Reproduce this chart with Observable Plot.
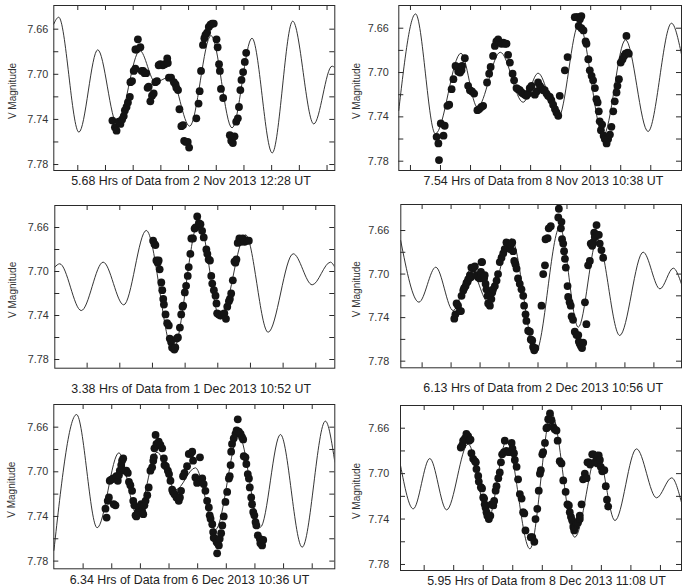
<!DOCTYPE html>
<html><head><meta charset="utf-8">
<script src="https://cdn.jsdelivr.net/npm/d3@7"></script>
<script src="https://cdn.jsdelivr.net/npm/@observablehq/plot@0.6"></script>
<style>
html,body{margin:0;padding:0;background:#fff;}
#root{position:relative;width:682px;height:588px;overflow:hidden;font-family:"Liberation Sans",Arial,sans-serif;}
#root svg{position:absolute;}
</style></head><body><div id="root"></div>
<script>
// ---- text ----
const captions = [
  "5.68 Hrs of Data from 2 Nov 2013 12:28 UT",
  "7.54 Hrs of Data from 8 Nov 2013 10:38 UT",
  "3.38 Hrs of Data from 1 Dec 2013 10:52 UT",
  "6.13 Hrs of Data from 2 Dec 2013 10:56 UT",
  "6.34 Hrs of Data from 6 Dec 2013 10:36 UT",
  "5.95 Hrs of Data from 8 Dec 2013 11:08 UT"
];
const yLabel = "V Magnitude";
const yTickValues = [7.66, 7.68, 7.70, 7.72, 7.74, 7.76, 7.78];
const yLabelValues = [7.66, 7.70, 7.74, 7.78];

// ---- x ticks (in tick units) ----
const nov02XTicks = [1,2,3,4,5,6,7,8,9,10];
const nov08XTicks = [1,2,3,4,5,6,7,8,9];
const dec01XTicks = [1,2,3,4,5,6,7,8];
const dec02XTicks = [1,2,3,4,5,6,7,8,9];
const dec06XTicks = [1,2,3,4,5,6,7,8,9];
const dec08XTicks = [1,2,3,4,5,6,7,8,9];

// ---- domains ----
const nov02XDomain = [0.134, 10.28], nov02YDomain = [7.639, 7.7853];
const nov08XDomain = [0.612, 10.023], nov08YDomain = [7.6395, 7.7884];
const dec01XDomain = [0.010, 8.582], dec01YDomain = [7.640, 7.7879];
const dec02XDomain = [0.264, 9.953], dec02YDomain = [7.6361, 7.7861];
const dec06XDomain = [-0.024, 9.789], dec06YDomain = [7.6397, 7.7869];
const dec08XDomain = [0.199, 9.713], dec08YDomain = [7.640, 7.7853];

// ---- model curves (extrema of fitted curve: [time, V mag]) ----
const nov02Model = [[0.13,7.6555],[0.31,7.6494],[1.04,7.7513],[1.72,7.6783],[2.42,7.744],[3.24,7.679],[3.80,7.707],[4.35,7.702],[5.04,7.746],[5.81,7.6656],[6.57,7.7475],[7.29,7.668],[8.02,7.7697],[8.76,7.6529],[9.52,7.744],[10.18,7.6928],[10.28,7.694]];
const nov08Model = [[0.61,7.7343],[1.17,7.6471],[1.83,7.7553],[2.68,7.6826],[3.23,7.7313],[3.99,7.6817],[4.75,7.7268],[5.25,7.7006],[5.92,7.7409],[6.61,7.6561],[7.42,7.7568],[8.16,7.6705],[8.91,7.7532],[9.69,7.6555],[10.02,7.6832]];
const dec01Model = [[0.01,7.696],[0.16,7.693],[0.82,7.7355],[1.49,7.6915],[2.12,7.7303],[2.81,7.6627],[3.63,7.7718],[4.42,7.6545],[5.08,7.743],[5.85,7.6667],[6.54,7.7552],[7.31,7.6839],[7.89,7.7121],[8.45,7.6915],[8.58,7.696]];
const dec02Model = [[0.26,7.6692],[0.89,7.7258],[1.47,7.6937],[2.07,7.7335],[2.68,7.6958],[3.28,7.7258],[4.08,7.6677],[4.92,7.7717],[5.75,7.6569],[6.39,7.7488],[7.05,7.6677],[7.82,7.7564],[8.63,7.6799],[9.21,7.7136],[9.67,7.6946],[9.95,7.709]];
const dec06Model = [[-0.02,7.7704],[0.77,7.6487],[1.49,7.7501],[2.25,7.683],[2.89,7.7391],[3.58,7.6824],[4.23,7.7161],[4.92,7.6964],[5.62,7.7519],[6.44,7.6675],[7.19,7.7496],[7.89,7.6666],[8.65,7.7675],[9.46,7.6546],[9.79,7.6913]];
const dec08Model = [[0.20,7.6929],[0.63,7.731],[1.19,7.6867],[1.76,7.7319],[2.49,7.6738],[3.17,7.7398],[3.79,7.6709],[4.58,7.7662],[5.31,7.6468],[6.10,7.756],[6.87,7.6811],[7.46,7.7413],[8.19,7.6782],[8.87,7.7213],[9.38,7.7037],[9.71,7.7251]];

// ---- observations [time, V mag] ----
const nov02Obs = [[2.25,7.741],[2.34,7.747],[2.40,7.750],[2.48,7.742],[2.54,7.744],[2.60,7.740],[2.66,7.737],[2.70,7.732],[2.76,7.729],[2.81,7.725],[2.88,7.720],[2.90,7.707],[2.96,7.706],[3.02,7.697],[3.08,7.695],[3.08,7.678],[3.12,7.678],[3.17,7.669],[3.26,7.676],[3.31,7.697],[3.36,7.697],[3.41,7.699],[3.47,7.699],[3.52,7.712],[3.56,7.711],[3.62,7.724],[3.68,7.719],[3.74,7.717],[3.80,7.707],[3.86,7.706],[3.92,7.692],[3.98,7.691],[4.07,7.692],[4.14,7.691],[4.23,7.686],[4.25,7.690],[4.29,7.703],[4.37,7.703],[4.47,7.707],[4.53,7.709],[4.56,7.712],[4.62,7.714],[4.67,7.731],[4.74,7.746],[4.80,7.745],[4.84,7.759],[4.90,7.760],[4.97,7.760],[5.02,7.765],[5.28,7.739],[5.36,7.726],[5.40,7.715],[5.45,7.697],[5.52,7.674],[5.57,7.668],[5.61,7.665],[5.67,7.663],[5.73,7.658],[5.79,7.656],[5.85,7.655],[5.91,7.655],[6.01,7.669],[6.05,7.676],[6.10,7.691],[6.13,7.697],[6.17,7.713],[6.25,7.721],[6.49,7.754],[6.54,7.759],[6.60,7.761],[6.66,7.755],[6.72,7.742],[6.78,7.739],[6.82,7.729],[6.87,7.714],[6.91,7.705],[6.97,7.698],[7.03,7.689],[7.08,7.681]];
const nov08Obs = [[1.87,7.758],[1.93,7.764],[1.95,7.779],[2.01,7.746],[2.14,7.748],[2.10,7.757],[2.23,7.730],[2.29,7.729],[2.37,7.715],[2.43,7.706],[2.50,7.694],[2.55,7.695],[2.59,7.699],[2.65,7.700],[2.70,7.698],[2.81,7.687],[2.72,7.694],[2.92,7.712],[2.98,7.716],[3.05,7.717],[3.12,7.719],[3.23,7.734],[3.29,7.733],[3.36,7.731],[3.42,7.730],[3.55,7.709],[3.62,7.701],[3.67,7.695],[3.75,7.685],[3.81,7.676],[3.86,7.672],[3.92,7.670],[3.97,7.673],[4.03,7.674],[4.09,7.673],[4.14,7.674],[4.20,7.674],[4.25,7.684],[4.31,7.691],[4.40,7.701],[4.45,7.707],[4.53,7.714],[4.58,7.715],[4.64,7.716],[4.70,7.718],[4.75,7.719],[4.81,7.720],[4.86,7.721],[4.92,7.719],[4.97,7.714],[5.03,7.712],[5.14,7.720],[5.20,7.717],[5.25,7.709],[5.31,7.712],[5.36,7.714],[5.42,7.716],[5.47,7.716],[5.53,7.719],[5.58,7.721],[5.64,7.722],[5.69,7.725],[5.75,7.729],[5.81,7.733],[5.86,7.736],[5.92,7.739],[5.97,7.721],[6.14,7.698],[6.23,7.686],[6.47,7.650],[6.53,7.650],[6.58,7.650],[6.64,7.652],[6.69,7.649],[6.60,7.658],[6.69,7.660],[6.76,7.662],[6.83,7.672],[6.86,7.674],[6.92,7.688],[6.97,7.698],[7.03,7.703],[7.08,7.707],[7.14,7.714],[7.19,7.724],[7.23,7.727],[7.27,7.735],[7.30,7.744],[7.34,7.752],[7.38,7.747],[7.43,7.757],[7.47,7.760],[7.53,7.764],[7.58,7.760],[7.64,7.756],[7.69,7.749],[7.75,7.735],[7.80,7.726],[7.86,7.718],[7.89,7.712],[7.94,7.706],[8.00,7.691],[8.06,7.688],[8.11,7.685],[8.16,7.683],[8.23,7.682],[8.27,7.683],[8.19,7.667]];
const dec01Obs = [[3.02,7.672],[3.06,7.675],[3.09,7.676],[3.12,7.690],[3.16,7.692],[3.19,7.690],[3.22,7.698],[3.27,7.710],[3.30,7.717],[3.33,7.725],[3.35,7.730],[3.40,7.739],[3.45,7.747],[3.50,7.749],[3.53,7.761],[3.57,7.764],[3.60,7.769],[3.65,7.770],[3.67,7.771],[3.70,7.769],[3.74,7.761],[3.78,7.760],[3.84,7.751],[3.88,7.739],[3.92,7.732],[3.94,7.731],[3.99,7.719],[4.03,7.713],[4.08,7.704],[4.11,7.696],[4.16,7.684],[4.19,7.670],[4.24,7.670],[4.29,7.661],[4.32,7.660],[4.37,7.650],[4.42,7.656],[4.47,7.657],[4.52,7.663],[4.57,7.669],[4.65,7.680],[4.68,7.684],[4.72,7.689],[4.76,7.690],[4.80,7.704],[4.83,7.711],[4.88,7.717],[4.93,7.722],[4.96,7.729],[4.98,7.738],[5.03,7.739],[5.08,7.740],[5.13,7.739],[5.20,7.738],[5.25,7.743],[5.29,7.732],[5.34,7.727],[5.37,7.725],[5.41,7.720],[5.46,7.708],[5.51,7.691],[5.54,7.692],[5.57,7.689],[5.61,7.674],[5.66,7.670],[5.71,7.673],[5.77,7.670],[5.82,7.673],[5.90,7.672],[5.95,7.672]];
const dec02Obs = [[2.11,7.741],[2.15,7.737],[2.19,7.727],[2.24,7.729],[2.30,7.734],[2.34,7.734],[2.36,7.720],[2.42,7.715],[2.45,7.713],[2.50,7.711],[2.53,7.708],[2.57,7.707],[2.59,7.705],[2.65,7.701],[2.68,7.703],[2.70,7.694],[2.76,7.695],[2.82,7.693],[2.88,7.701],[2.93,7.703],[2.99,7.704],[3.03,7.698],[3.05,7.689],[3.07,7.689],[3.14,7.704],[3.16,7.701],[3.19,7.709],[3.22,7.714],[3.26,7.720],[3.28,7.727],[3.34,7.729],[3.39,7.723],[3.42,7.717],[3.45,7.714],[3.51,7.711],[3.57,7.706],[3.62,7.700],[3.68,7.689],[3.74,7.685],[3.80,7.681],[3.85,7.677],[3.91,7.671],[3.97,7.674],[4.03,7.677],[4.06,7.673],[4.11,7.671],[4.14,7.679],[4.18,7.688],[4.22,7.691],[4.26,7.695],[4.31,7.704],[4.37,7.709],[4.43,7.714],[4.49,7.720],[4.52,7.729],[4.57,7.737],[4.60,7.743],[4.66,7.752],[4.72,7.753],[4.75,7.760],[4.80,7.761],[4.83,7.767],[4.87,7.770],[4.91,7.768],[5.12,7.729],[5.18,7.700],[5.24,7.692],[5.26,7.668],[5.33,7.667],[5.37,7.658],[5.44,7.656],[5.70,7.648],[5.72,7.640],[5.79,7.658],[5.81,7.652],[5.83,7.668],[5.87,7.672],[5.90,7.679],[5.93,7.686],[5.96,7.694],[6.02,7.711],[6.04,7.721],[6.09,7.726],[6.13,7.729],[6.16,7.739],[6.21,7.742],[6.27,7.753],[6.33,7.756],[6.39,7.756],[6.41,7.762],[6.44,7.764],[6.48,7.766],[6.52,7.768],[6.56,7.763],[6.62,7.726],[6.67,7.746],[6.73,7.692],[6.79,7.688],[6.82,7.672],[6.87,7.674],[6.90,7.671],[6.94,7.662],[6.96,7.666],[7.02,7.655],[7.05,7.664],[7.10,7.664],[7.13,7.672],[7.19,7.678],[7.25,7.685]];
const dec06Obs = [[1.78,7.733],[1.82,7.741],[1.86,7.726],[1.90,7.723],[1.93,7.708],[1.98,7.707],[2.05,7.706],[2.07,7.729],[2.13,7.730],[2.16,7.704],[2.21,7.708],[2.25,7.703],[2.28,7.699],[2.33,7.694],[2.36,7.690],[2.40,7.688],[2.44,7.699],[2.51,7.699],[2.56,7.701],[2.60,7.709],[2.65,7.712],[2.71,7.717],[2.75,7.726],[2.79,7.730],[2.83,7.739],[2.86,7.740],[2.91,7.736],[2.98,7.732],[3.03,7.729],[3.06,7.735],[3.10,7.738],[3.14,7.730],[3.18,7.726],[3.24,7.721],[3.29,7.714],[3.35,7.699],[3.41,7.696],[3.45,7.690],[3.47,7.687],[3.49,7.679],[3.53,7.667],[3.56,7.675],[3.61,7.676],[3.64,7.673],[3.70,7.676],[3.76,7.679],[3.82,7.688],[3.84,7.694],[3.89,7.695],[3.96,7.699],[4.00,7.702],[4.05,7.708],[4.11,7.716],[4.14,7.718],[4.19,7.720],[4.26,7.723],[4.34,7.726],[4.38,7.723],[4.42,7.717],[4.49,7.704],[4.54,7.701],[4.63,7.695],[4.69,7.684],[4.75,7.684],[4.81,7.682],[4.84,7.690],[4.92,7.705],[4.98,7.710],[5.08,7.687],[5.16,7.706],[5.21,7.711],[5.27,7.717],[5.33,7.726],[5.39,7.732],[5.42,7.739],[5.45,7.742],[5.51,7.747],[5.54,7.754],[5.56,7.759],[5.62,7.760],[5.66,7.763],[5.70,7.764],[5.74,7.766],[5.68,7.773],[5.77,7.760],[5.82,7.755],[5.86,7.748],[5.91,7.740],[5.97,7.727],[6.03,7.718],[6.09,7.706],[6.12,7.704],[6.15,7.694],[6.17,7.682],[6.20,7.675],[6.26,7.670],[6.32,7.666],[6.36,7.663],[6.40,7.653],[6.44,7.664],[6.50,7.666],[6.55,7.669],[6.59,7.671],[6.61,7.686],[6.67,7.687],[6.70,7.693],[6.75,7.702],[6.79,7.706],[6.82,7.714],[6.87,7.723],[6.90,7.729],[6.94,7.736],[6.98,7.739],[7.02,7.745],[7.05,7.748],[7.10,7.757],[7.17,7.760],[7.19,7.764],[7.25,7.766],[7.29,7.761]];
const dec08Obs = [[2.24,7.677],[2.29,7.675],[2.32,7.671],[2.38,7.669],[2.43,7.665],[2.49,7.667],[2.52,7.671],[2.57,7.670],[2.60,7.682],[2.66,7.687],[2.72,7.689],[2.75,7.690],[2.77,7.696],[2.83,7.702],[2.85,7.707],[2.92,7.712],[2.96,7.713],[3.00,7.721],[3.03,7.722],[3.05,7.727],[3.08,7.730],[3.11,7.734],[3.14,7.737],[3.19,7.740],[3.24,7.737],[3.28,7.727],[3.34,7.728],[3.37,7.724],[3.42,7.715],[3.45,7.711],[3.51,7.704],[3.56,7.699],[3.60,7.690],[3.64,7.683],[3.70,7.681],[3.73,7.671],[3.79,7.680],[3.84,7.681],[3.90,7.681],[3.96,7.673],[3.99,7.678],[4.04,7.682],[4.07,7.688],[4.13,7.694],[4.18,7.705],[4.24,7.718],[4.30,7.722],[4.35,7.734],[4.39,7.735],[4.43,7.750],[4.61,7.756],[4.66,7.756],[4.73,7.760],[4.77,7.740],[4.83,7.731],[4.88,7.715],[4.92,7.700],[4.95,7.697],[5.00,7.683],[5.03,7.681],[5.09,7.673],[5.14,7.660],[5.18,7.659],[5.20,7.652],[5.26,7.647],[5.31,7.653],[5.37,7.659],[5.42,7.661],[5.48,7.662],[5.52,7.671],[5.59,7.689],[5.65,7.691],[5.71,7.706],[5.79,7.716],[5.85,7.727],[5.90,7.728],[5.93,7.734],[5.97,7.738],[6.01,7.741],[6.05,7.747],[6.08,7.750],[6.12,7.747],[6.16,7.744],[6.21,7.743],[6.27,7.740],[6.27,7.737],[6.33,7.727],[6.38,7.705],[6.44,7.700],[6.50,7.704],[6.53,7.690],[6.58,7.690],[6.62,7.692],[6.69,7.683],[6.73,7.683],[6.78,7.690],[6.84,7.687],[6.87,7.691],[6.91,7.684],[6.95,7.688],[6.98,7.694],[7.03,7.698],[7.10,7.697],[7.15,7.711],[7.19,7.723],[7.23,7.729]];

// ---- layout (pixels) ----
const layout = [
  {left:0,   top:0,   width:341, height:195, ml:53.3, mr:6.7, mt:5,  mb:25,   pad:5.6,  ylab:-41.3, capDx:-3.3, capDy:11},
  {left:341, top:0,   width:341, height:195, ml:57.3, mr:1,   mt:5,  mb:25,   pad:10,   ylab:-42,   capDx:3.3,  capDy:11},
  {left:0,   top:195, width:341, height:200, ml:54.3, mr:6.7, mt:10, mb:27.3, pad:6,    ylab:-41.8, capDx:-3.6, capDy:20.6},
  {left:341, top:195, width:341, height:200, ml:59.3, mr:1,   mt:9,  mb:27.7, pad:11.6, ylab:-44,   capDx:2,    capDy:20.3},
  {left:0,   top:390, width:341, height:198, ml:53.3, mr:6.7, mt:14, mb:19.7, pad:5.6,  ylab:-41.6, capDx:-4.8, capDy:11.4},
  {left:341, top:390, width:341, height:198, ml:59,   mr:1,   mt:15, mb:18,   pad:11.3, ylab:-43.3, capDx:5.5,  capDy:10.2}
];
const series = [
  {model: nov02Model, obs: nov02Obs, xTicks: nov02XTicks, xDomain: nov02XDomain, yDomain: nov02YDomain},
  {model: nov08Model, obs: nov08Obs, xTicks: nov08XTicks, xDomain: nov08XDomain, yDomain: nov08YDomain},
  {model: dec01Model, obs: dec01Obs, xTicks: dec01XTicks, xDomain: dec01XDomain, yDomain: dec01YDomain},
  {model: dec02Model, obs: dec02Obs, xTicks: dec02XTicks, xDomain: dec02XDomain, yDomain: dec02YDomain},
  {model: dec06Model, obs: dec06Obs, xTicks: dec06XTicks, xDomain: dec06XDomain, yDomain: dec06YDomain},
  {model: dec08Model, obs: dec08Obs, xTicks: dec08XTicks, xDomain: dec08XDomain, yDomain: dec08YDomain}
];

const ink = "#2a2a2a";
const toObj = a => a.map(([t, v]) => ({t, v}));
const root = document.getElementById("root");

series.forEach((s, i) => {
  const L = layout[i];
  const fw = L.width - L.ml - L.mr;
  const fh = L.height - L.mt - L.mb;
  const svg = Plot.plot({
    width: L.width, height: L.height,
    marginTop: L.mt, marginRight: L.mr, marginBottom: L.mb, marginLeft: L.ml,
    style: {fontFamily: "'Liberation Sans', Arial, sans-serif", background: "transparent", overflow: "visible"},
    x: {domain: s.xDomain, axis: null},
    y: {domain: s.yDomain, reverse: true, axis: null},
    marks: [
      Plot.line(toObj(s.model), {x: "t", y: "v", curve: "monotone-x", stroke: "#1e1e1e", strokeWidth: 0.9, clip: true}),
      Plot.dot(toObj(s.obs), {x: "t", y: "v", r: 3.9, fill: "#141414", stroke: "none"}),
      Plot.tickY(yTickValues, {y: d => d, insetRight: fw - 5, stroke: ink, strokeWidth: 1}),
      Plot.tickY(yTickValues, {y: d => d, insetLeft: fw - 5, stroke: ink, strokeWidth: 1}),
      Plot.tickX(s.xTicks, {x: d => d, insetBottom: fh - 5, stroke: ink, strokeWidth: 1}),
      Plot.tickX(s.xTicks, {x: d => d, insetTop: fh - 5, stroke: ink, strokeWidth: 1}),
      Plot.axisY({ticks: yLabelValues, anchor: "left", tickSize: 0, tickPadding: L.pad, tickFormat: d3.format(".2f"), fontSize: 10.8, label: null, color: "#333"}),
      Plot.frame({stroke: ink, strokeWidth: 1}),
      Plot.text([yLabel], {text: d => d, frameAnchor: "left", textAnchor: "middle", lineAnchor: "middle", rotate: -90, dx: L.ylab, dy: 3, fontSize: 10, fill: "#333"}),
      Plot.text([captions[i]], {text: d => d, frameAnchor: "bottom", textAnchor: "middle", lineAnchor: "middle", dx: L.capDx, dy: L.capDy, fontSize: 12.4, fill: "#222"})
    ]
  });
  svg.style.left = L.left + "px";
  svg.style.top = L.top + "px";
  root.appendChild(svg);
});
</script>
</body></html>
